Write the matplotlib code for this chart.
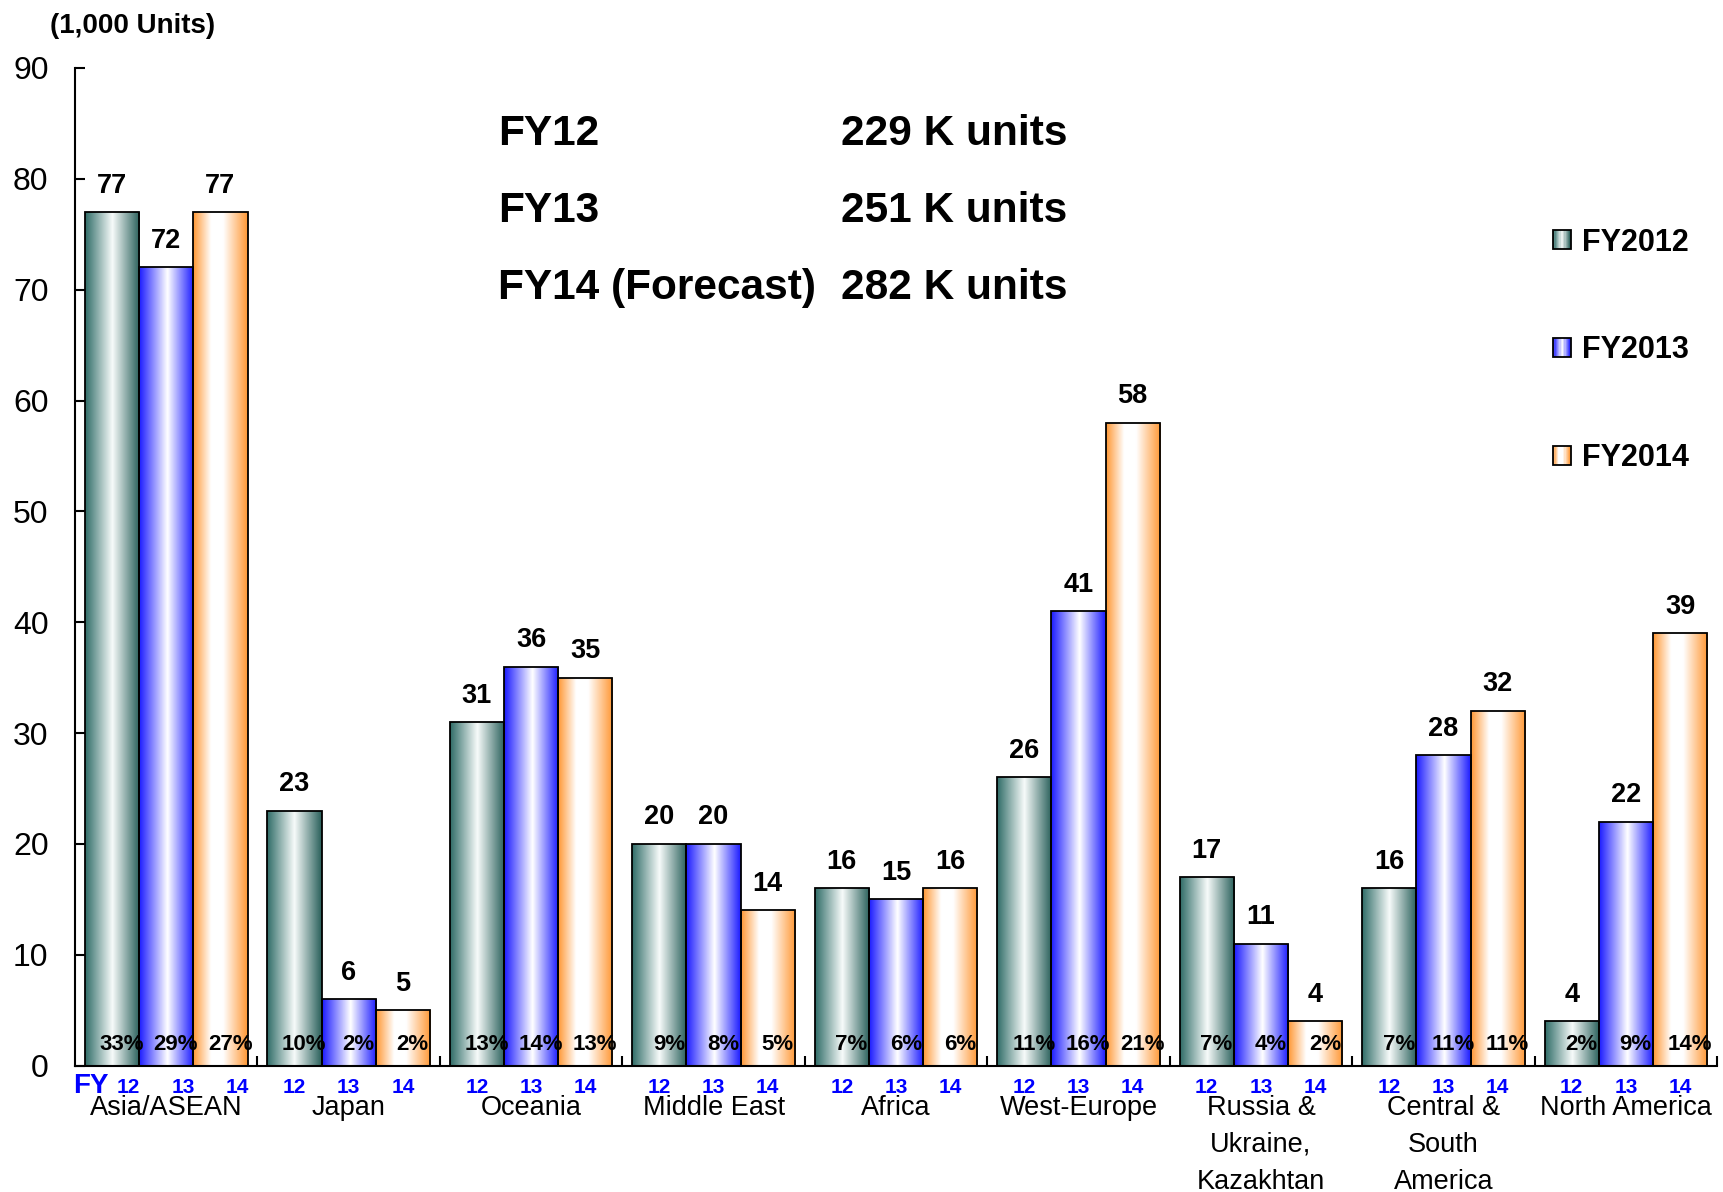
import numpy as np
import matplotlib
matplotlib.use("Agg")
import matplotlib.pyplot as plt
from matplotlib.colors import LinearSegmentedColormap
from matplotlib.patches import Patch, Rectangle
from matplotlib.legend_handler import HandlerBase

plt.rcParams['font.family'] = ['Liberation Sans', 'DejaVu Sans']

# --- Data (1,000 units) ---
regions = ['Asia/ASEAN', 'Japan', 'Oceania', 'Middle East', 'Africa', 'West-Europe',
           'Russia &\nUkraine,\nKazakhtan', 'Central &\nSouth\nAmerica', 'North America']
fy2012 = [77, 23, 31, 20, 16, 26, 17, 16, 4]
fy2013 = [72, 6, 36, 20, 15, 41, 11, 28, 22]
fy2014 = [77, 5, 35, 14, 16, 58, 4, 32, 39]
share2012 = ['33%', '10%', '13%', '9%', '7%', '11%', '7%', '7%', '2%']
share2013 = ['29%', '2%', '14%', '8%', '6%', '16%', '4%', '11%', '9%']
share2014 = ['27%', '2%', '13%', '5%', '6%', '21%', '2%', '11%', '14%']
fiscal_years = ['FY2012', 'FY2013', 'FY2014']
fy_short = ['12', '13', '14']
summary_labels = ['FY12', 'FY13', 'FY14 (Forecast)']
summary_values = ['229 K units', '251 K units', '282 K units']

# --- Gradient colormaps (edge colour -> white -> edge colour) ---
cm_teal = LinearSegmentedColormap.from_list('teal', [(0, '#2f6c67'), (0.5, '#f7fbfa'), (1, '#285f5a')])
cm_blue = LinearSegmentedColormap.from_list('blue', [(0, '#1a1aff'), (0.52, '#ffffff'), (1, '#1a1aff')])
cm_orange = LinearSegmentedColormap.from_list('orange', [(0, '#ff9733'), (0.33, '#ffffff'),
                                                         (0.55, '#ffffff'), (1, '#ff9733')])
cmaps = [cm_teal, cm_blue, cm_orange]
series = [fy2012, fy2013, fy2014]
shares = [share2012, share2013, share2014]


class GradientHandler(HandlerBase):
    # legend square drawn as thin vertical strips of the bar gradient
    def __init__(self, cmap, n=14):
        super().__init__()
        self.cmap = cmap
        self.n = n

    def create_artists(self, legend, orig_handle, xdescent, ydescent, width, height, fontsize, trans):
        arts = []
        step = width / self.n
        for k in range(self.n):
            arts.append(Rectangle((-xdescent + k * step, -ydescent), step * 1.05, height,
                                  facecolor=self.cmap((k + 0.5) / self.n), edgecolor='none', transform=trans))
        arts.append(Rectangle((-xdescent, -ydescent), width, height, fill=False,
                              edgecolor='black', lw=1.3, transform=trans))
        return arts


fig = plt.figure(figsize=(17.24, 11.92), dpi=100)
ax = fig.add_axes([0.0435, 0.106, 0.9525, 0.837])

x = np.arange(len(regions))
w = 0.297
grad = np.linspace(0, 1, 256).reshape(1, -1)
blue = '#0000ff'

for k in range(3):
    pos = x + (k - 1) * w
    bars = ax.bar(pos, series[k], w, facecolor='none', edgecolor='black', linewidth=1.3, zorder=3)
    for b in bars:
        x0, y0 = b.get_x(), b.get_y()
        im = ax.imshow(grad, cmap=cmaps[k], aspect='auto', zorder=2, interpolation='bilinear',
                       extent=[x0, x0 + b.get_width(), y0, y0 + b.get_height()])
        im.set_clip_path(b)
    for i, p in enumerate(pos):
        ax.annotate(str(series[k][i]), (p, series[k][i]), xytext=(0, 14), textcoords='offset points',
                    ha='center', va='baseline', fontsize=19.5, fontweight='bold')
        ax.annotate(shares[k][i], (p, 0), xytext=(7, 11), textcoords='offset points',
                    ha='center', va='baseline', fontsize=16, fontweight='bold', zorder=5)
        dx = 12 if i == 0 else 0
        ax.annotate(fy_short[k], (p, 0), xytext=(dx, -19.5), textcoords='offset points',
                    ha='center', va='baseline', fontsize=15, fontweight='bold', color=blue,
                    annotation_clip=False)

ax.annotate('FY', (-0.5, 0), xytext=(-1.5, -19.5), textcoords='offset points', ha='left',
            va='baseline', fontsize=20, fontweight='bold', color=blue, annotation_clip=False)

ax.set_xlim(-0.5, 8.5)
ax.set_ylim(0, 90)

# --- Axes, ticks ---
ax.set_xticks(np.arange(0.5, 9, 1))
ax.set_xticklabels([])
ax.set_xticks(x, regions, minor=True)
ax.tick_params(axis='x', which='major', direction='in', length=7.5, width=1.5)
ax.tick_params(axis='x', which='minor', length=0, pad=21, labelsize=19.5)
for lbl in ax.get_xticklabels(minor=True):
    lbl.set_linespacing(1.55)
ax.set_yticks(range(0, 100, 10))
ax.tick_params(axis='y', direction='in', length=7.5, width=1.5, pad=19, labelsize=23)
for s in ['top', 'right']:
    ax.spines[s].set_visible(False)
for s in ['left', 'bottom']:
    ax.spines[s].set_linewidth(1.5)

# --- Legend ---
handles = [Patch(label=lab) for lab in fiscal_years]
hmap = {h: GradientHandler(c) for h, c in zip(handles, cmaps)}
ax.legend(handles=handles, handler_map=hmap, loc='center left', bbox_to_anchor=(0.9008, 0.706),
          bbox_transform=fig.transFigure, frameon=False, prop=dict(weight='bold', size=22),
          handlelength=0.58, handleheight=0.58, handletextpad=0.36, labelspacing=2.55,
          borderpad=0, borderaxespad=0)

# --- Summary text and unit label ---
for j, yy in enumerate([0.8784, 0.8138, 0.7492]):
    fig.text(0.2889, yy, summary_labels[j], fontsize=30.5, fontweight='bold', va='baseline')
    fig.text(0.4878, yy, summary_values[j], fontsize=30.5, fontweight='bold', va='baseline')

fig.text(0.029, 0.972, '(1,000 Units)', fontsize=20, fontweight='bold', va='baseline')

fig.savefig('out.png', dpi=100)
